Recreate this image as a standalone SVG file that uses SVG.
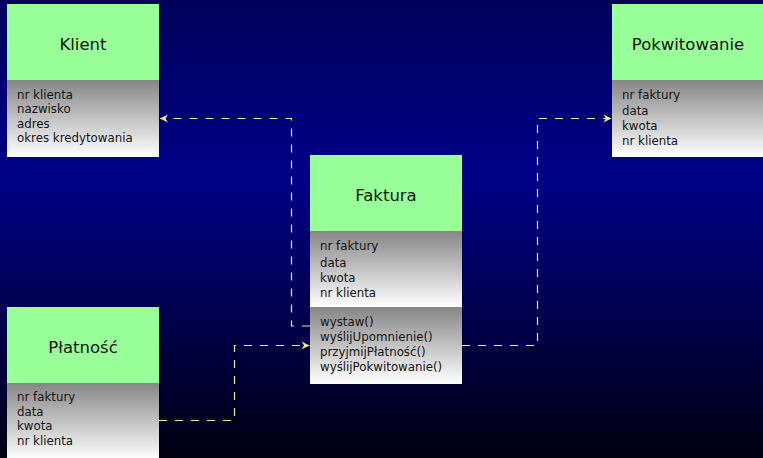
<svg xmlns="http://www.w3.org/2000/svg" width="763" height="458" viewBox="0 0 763 458">
<defs>
<linearGradient id="bg" x1="0" y1="0" x2="0" y2="1">
<stop offset="0" stop-color="#00005a"/>
<stop offset="0.38" stop-color="#000088"/>
<stop offset="1" stop-color="#000012"/>
</linearGradient>
<linearGradient id="gray" x1="0" y1="0" x2="0" y2="1">
<stop offset="0" stop-color="#868686"/>
<stop offset="1" stop-color="#ffffff"/>
</linearGradient>
<marker id="arr" viewBox="0 0 10 10" refX="9" refY="5" markerWidth="10" markerHeight="10" markerUnits="userSpaceOnUse" orient="auto">
<path d="M1,1 L9,5 L1,9 L3.5,5 z" fill="#f2e88a"/>
</marker>
<style>
.head{fill:#99ff99}
.body{fill:url(#gray)}
.title{font-family:"DejaVu Sans",sans-serif;font-size:16.5px;fill:#141414;text-anchor:middle}
.attr{font-family:"DejaVu Sans",sans-serif;font-size:11.8px;fill:#141414}
.conn{fill:none;stroke:#efe6a0;stroke-width:1.2;stroke-dasharray:8 8}
</style>
</defs>
<rect x="0" y="0" width="763" height="458" fill="url(#bg)"/>
<g id="connectors">
<path class="conn" d="M310,326 H291.5 V118.5 H160" marker-end="url(#arr)"/>
<path class="conn" d="M159,420.5 H234.5 V345.5 H309.5" marker-end="url(#arr)"/>
<path class="conn" d="M462,345.5 H537.5 V118.5 H611.5" marker-end="url(#arr)"/>
</g>
<g id="klient">
<rect class="head" x="7" y="4" width="152" height="76"/>
<rect class="body" x="7" y="80" width="152" height="77"/>
<text class="title" x="83" y="50">Klient</text>
<text class="attr" x="17" y="99">nr klienta</text>
<text class="attr" x="17" y="113">nazwisko</text>
<text class="attr" x="17" y="128">adres</text>
<text class="attr" x="17" y="142">okres kredytowania</text>
</g>
<g id="faktura">
<rect class="head" x="310" y="155" width="152" height="76"/>
<rect class="body" x="310" y="231" width="152" height="76"/>
<rect class="body" x="310" y="307" width="152" height="77"/>
<text class="title" x="386" y="201">Faktura</text>
<text class="attr" x="320" y="250">nr faktury</text>
<text class="attr" x="320" y="267">data</text>
<text class="attr" x="320" y="282">kwota</text>
<text class="attr" x="320" y="297">nr klienta</text>
<text class="attr" x="320" y="326">wystaw()</text>
<text class="attr" x="320" y="341">wyślijUpomnienie()</text>
<text class="attr" x="320" y="356">przyjmijPłatność()</text>
<text class="attr" x="320" y="371">wyślijPokwitowanie()</text>
</g>
<g id="platnosc">
<rect class="head" x="7" y="307" width="152" height="76"/>
<rect class="body" x="7" y="383" width="152" height="77"/>
<text class="title" x="83" y="353">Płatność</text>
<text class="attr" x="17" y="401">nr faktury</text>
<text class="attr" x="17" y="416">data</text>
<text class="attr" x="17" y="430">kwota</text>
<text class="attr" x="17" y="445">nr klienta</text>
</g>
<g id="pokwitowanie">
<rect class="head" x="612" y="4" width="152" height="76"/>
<rect class="body" x="612" y="80" width="152" height="77"/>
<text class="title" x="688" y="50">Pokwitowanie</text>
<text class="attr" x="622" y="99">nr faktury</text>
<text class="attr" x="622" y="115">data</text>
<text class="attr" x="622" y="130">kwota</text>
<text class="attr" x="622" y="145">nr klienta</text>
</g>
</svg>
